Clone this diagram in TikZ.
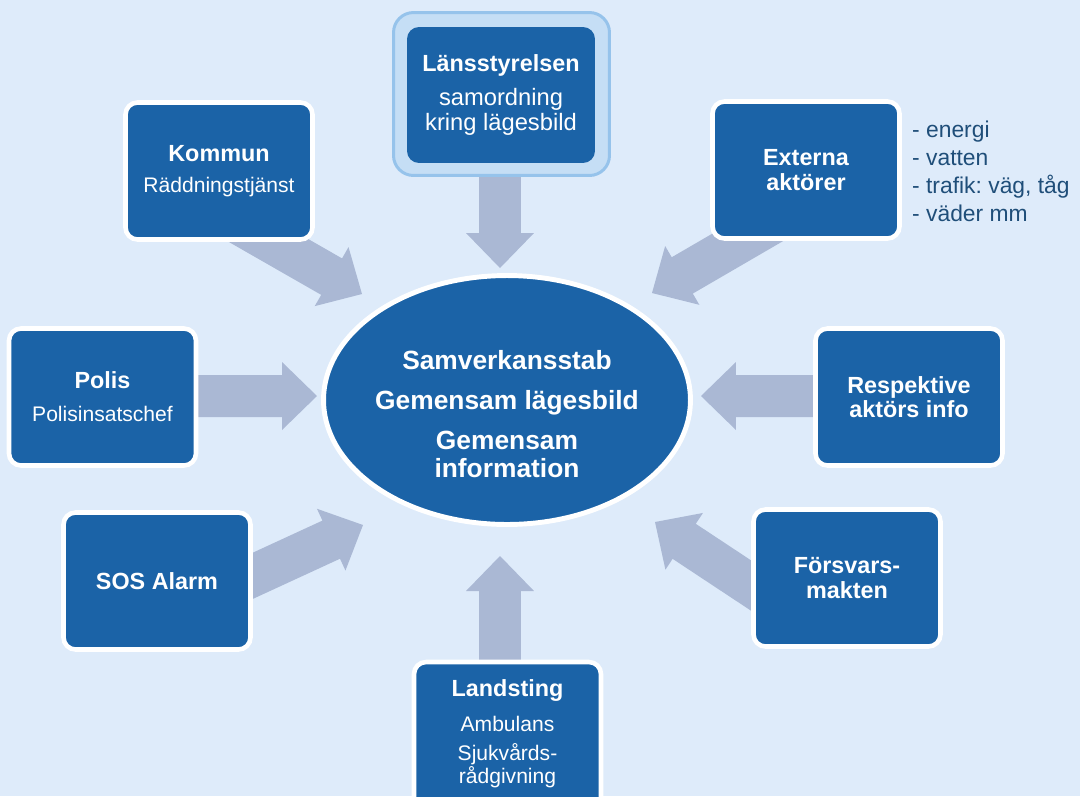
\documentclass[tikz,border=0pt]{standalone}
\usepackage{fontspec}
\setmainfont{Liberation Sans}
\usetikzlibrary{calc,shapes.geometric}
\frenchspacing
\definecolor{bgcol}{HTML}{DEEBFA}
\definecolor{boxcol}{HTML}{1B63A7}
\definecolor{arrowcol}{HTML}{AAB8D4}
\definecolor{lansfill}{HTML}{C5DEF5}
\definecolor{lansdraw}{HTML}{96C3EB}
\definecolor{listcol}{HTML}{1F4E79}
\pgfdeclarelayer{bglayer}
\pgfdeclarelayer{arrowlayer}
\pgfsetlayers{bglayer,arrowlayer,main}
\newcommand\boxtitle{\fontsize{13.3}{14}\selectfont\bfseries}
\newcommand\subtxt{\fontsize{12}{14}\selectfont}
\newcommand\blockarrow[2]{%
  \coordinate (ba-h) at ($(#2)!0.7cm!(#1)$);
  \fill[arrowfill] ($(#1)!0.42cm!90:(#2)$) -- ($(ba-h)!0.42cm!90:(#2)$)
    -- ($(ba-h)!0.68cm!90:(#2)$) -- (#2) -- ($(ba-h)!0.68cm!-90:(#2)$)
    -- ($(ba-h)!0.42cm!-90:(#2)$) -- ($(#1)!0.42cm!-90:(#2)$) -- cycle;}
\tikzset{
  arrowfill/.style={fill=arrowcol},
  actor/.style={draw=white, line width=2.6pt, fill=boxcol, rounded corners=0.24cm,
    minimum width=3.74cm, minimum height=2.74cm, align=center, text=white,
    inner sep=0pt, font=\fontsize{12}{14}\selectfont},
  hub/.style={ellipse, draw=white, line width=2.8pt, fill=boxcol,
    minimum width=7.34cm, minimum height=4.98cm, inner sep=0pt},
  hubtext/.style={align=center, text=white, font=\fontsize{15}{16}\selectfont\bfseries},
}
\begin{document}
\begin{tikzpicture}[x=0.02cm,y=-0.02cm]
\useasboundingbox (0,0) rectangle (1080,796);
\begin{pgfonlayer}{bglayer}
  \fill[bgcol] (0,0) rectangle (1080,796);
\end{pgfonlayer}

% central hub
\node[hub] (hub) at (507,400) {};
\node[hubtext] (hubtext) at (507,414) {Samverkansstab\\[6.7pt]Gemensam lägesbild\\[6.7pt]Gemensam\\information};

% Länsstyrelsen
\node[draw=lansdraw, line width=1.7pt, fill=lansfill, rounded corners=0.4cm,
  minimum width=4.32cm, minimum height=3.26cm, inner sep=0pt] (lansframe) at (501.5,94) {};
\node[actor, draw=none, minimum width=3.76cm, minimum height=2.72cm,
  font=\fontsize{13.5}{14.2}\selectfont] (lans) at (501,95)
  {{\boxtitle Länsstyrelsen}\\[5.6pt]samordning\\kring lägesbild};

% other actors
\node[actor] (kommun) at (219,171) {{\boxtitle Kommun}\\[4pt]{\subtxt Räddningstjänst}};
\node[actor] (externa) at (806,170) {{\boxtitle Externa}\\{\boxtitle aktörer}};
\node[anchor=west, align=left, text=listcol, font=\fontsize{13}{16}\selectfont] (externlist)
  at (906,171.5) {- energi\\- vatten\\- trafik: väg, tåg\\- väder mm};
\node[actor] (polis) at (102.5,397) {{\boxtitle Polis}\\[4.7pt]{\subtxt Polisinsatschef}};
\node[actor] (resp) at (909,397) {{\boxtitle Respektive}\\{\boxtitle aktörs info}};
\node[actor] (sos) at (157,581) {{\boxtitle SOS Alarm}};
\node[actor] (forsvar) at (847,578) {{\boxtitle Försvars-}\\{\boxtitle makten}};
\node[actor, font=\fontsize{12}{13}\selectfont, minimum height=3.1cm, text depth=9pt]
  (landsting) at (507.5,739.5)
  {{\boxtitle Landsting}\\[6.8pt]Ambulans\\[4pt]Sjukvårds-\\rådgivning};

% arrows
\begin{pgfonlayer}{arrowlayer}
  \coordinate (lans-out) at (500,165);    \coordinate (lans-in) at (500,268);
  \coordinate (kommun-out) at (231,219);  \coordinate (kommun-in) at (362,294);
  \coordinate (externa-out) at (781,218); \coordinate (externa-in) at (652,293);
  \coordinate (polis-out) at (180,396);   \coordinate (polis-in) at (317,396);
  \coordinate (resp-out) at (830,396);    \coordinate (resp-in) at (701,396);
  \coordinate (sos-out) at (222,590);     \coordinate (sos-in) at (363,525);
  \coordinate (forsvar-out) at (782,606); \coordinate (forsvar-in) at (655,522);
  \coordinate (land-out) at (500,680);    \coordinate (land-in) at (500,556);
  \blockarrow{lans-out}{lans-in}
  \blockarrow{kommun-out}{kommun-in}
  \blockarrow{externa-out}{externa-in}
  \blockarrow{polis-out}{polis-in}
  \blockarrow{resp-out}{resp-in}
  \blockarrow{sos-out}{sos-in}
  \blockarrow{forsvar-out}{forsvar-in}
  \blockarrow{land-out}{land-in}
\end{pgfonlayer}
\end{tikzpicture}
\end{document}
